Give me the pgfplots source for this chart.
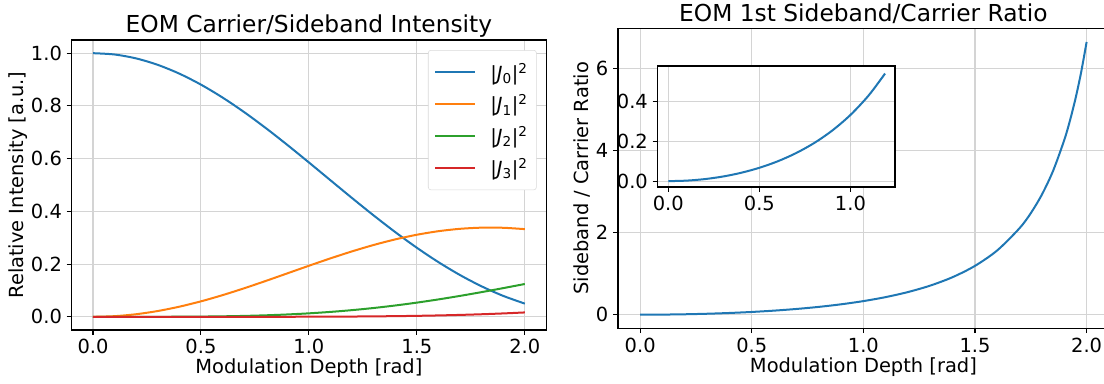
\documentclass[border=0pt]{standalone}
\usepackage{fontspec}
\setmainfont{DejaVu Sans}
\usepackage{pgfplots}
\pgfplotsset{compat=1.18}
\definecolor{C0}{HTML}{1F77B4}
\definecolor{C1}{HTML}{FF7F0E}
\definecolor{C2}{HTML}{2CA02C}
\definecolor{C3}{HTML}{D62728}
\pgfplotsset{
  mpl/.style={
    scale only axis,
    axis line style={line width=1.25pt},
    grid=major,
    major grid style={line width=0.8pt, color=black!17},
    tick align=outside,
    tick pos=left,
    major tick length=3.6pt,
    every tick/.style={black, line width=0.8pt},
    tick label style={font=\fontsize{14.58}{17}\selectfont},
    /pgf/number format/assume math mode=true,
    label style={font=\fontsize{14.58}{17}\selectfont},
    every axis title/.style={font=\fontsize{17.5}{21}\selectfont, at={(0.5,1)}, anchor=base, yshift=5.5pt},
    every axis plot/.append style={line width=1.5pt, no markers},
  },
  onedec/.style={/pgf/number format/.cd, fixed, fixed zerofill, precision=1},
}
\begin{document}
\begin{tikzpicture}
% ---------------- left panel ----------------
\begin{axis}[mpl,
  at={(53.55pt,39.75pt)}, anchor=south west,
  width=356.25pt, height=217.5pt,
  xmin=-0.1, xmax=2.1, ymin=-0.05, ymax=1.05,
  xtick={0,0.5,1,1.5,2}, ytick={0,0.2,0.4,0.6,0.8,1.0},
  xticklabel style={onedec}, yticklabel style={onedec},
  title={EOM Carrier/Sideband Intensity},
  xlabel={Modulation Depth [rad]},
  ylabel={Relative Intensity [a.u.]},
  xlabel style={at={(axis description cs:0.5,-0.132)}, anchor=center},
  ylabel style={at={(axis description cs:-0.1126,0.5)}, anchor=center, rotate=0},
  legend cell align=left,
  legend image code/.code={\draw[#1] (0pt,0pt) -- (30pt,0pt); \path (38.5pt,0pt);},
  legend style={at={(1,1)}, anchor=north east, xshift=-7.3pt, yshift=-7.5pt,
    draw=black!15, rounded corners=2pt, fill=white,
    font=\fontsize{14.58}{17}\selectfont, row sep=5.5pt,
    inner xsep=4.5pt, inner ysep=7.5pt},
]
\addplot[C0, smooth] coordinates {(0,1)(0.1,0.99501)(0.2,0.98015)(0.3,0.95575)(0.4,0.92236)(0.5,0.88073)(0.6,0.83175)(0.7,0.77652)(0.8,0.71620)(0.9,0.65210)(1.0,0.58553)(1.1,0.51786)(1.2,0.45042)(1.3,0.38451)(1.4,0.32133)(1.5,0.26197)(1.6,0.20739)(1.7,0.15839)(1.8,0.11559)(1.9,0.07942)(2.0,0.05013)};
\addlegendentry{|\textit{J}\textsubscript{0}|\textsuperscript{2}}
\addplot[C1, smooth] coordinates {(0,0)(0.1,0.00249)(0.2,0.00990)(0.3,0.02200)(0.4,0.03843)(0.5,0.05869)(0.6,0.08220)(0.7,0.10824)(0.8,0.13604)(0.9,0.16480)(1.0,0.19365)(1.1,0.22175)(1.2,0.24829)(1.3,0.27251)(1.4,0.29371)(1.5,0.31129)(1.6,0.32478)(1.7,0.33381)(1.8,0.33816)(1.9,0.33774)(2.0,0.33261)};
\addlegendentry{|\textit{J}\textsubscript{1}|\textsuperscript{2}}
\addplot[C2, smooth] coordinates {(0,0)(0.1,0.0000016)(0.2,0.000025)(0.3,0.000125)(0.4,0.000389)(0.5,0.000937)(0.6,0.001907)(0.7,0.003456)(0.8,0.005748)(0.9,0.008947)(1.0,0.013203)(1.1,0.018650)(1.2,0.025392)(1.3,0.033499)(1.4,0.042997)(1.5,0.053865)(1.6,0.066033)(1.7,0.079377)(1.8,0.093724)(1.9,0.108851)(2.0,0.124492)};
\addlegendentry{|\textit{J}\textsubscript{2}|\textsuperscript{2}}
\addplot[C3, smooth] coordinates {(0,0)(0.1,0)(0.2,0.00000003)(0.3,0.0000003)(0.4,0.0000017)(0.5,0.0000066)(0.6,0.0000194)(0.7,0.000048)(0.8,0.000105)(0.9,0.000208)(1.0,0.000383)(1.1,0.000660)(1.2,0.001081)(1.3,0.001692)(1.4,0.002550)(1.5,0.003717)(1.6,0.005260)(1.7,0.007251)(1.8,0.009762)(1.9,0.012865)(2.0,0.016626)};
\addlegendentry{|\textit{J}\textsubscript{3}|\textsuperscript{2}}
\end{axis}
% ---------------- right panel ----------------
\begin{axis}[mpl,
  at={(463.4pt,41.0pt)}, anchor=south west,
  width=368.3pt, height=225pt,
  xmin=-0.1, xmax=2.1, ymin=-0.332, ymax=6.967,
  xtick={0,0.5,1,1.5,2}, ytick={0,2,4,6},
  xticklabel style={onedec},
  title={EOM 1st Sideband/Carrier Ratio},
  xlabel={Modulation Depth [rad]},
  ylabel={Sideband / Carrier Ratio},
  xlabel style={at={(axis description cs:0.5,-0.128)}, anchor=center},
  ylabel style={at={(axis description cs:-0.0721,0.5)}, anchor=center, rotate=0},
]
\addplot[C0, smooth] coordinates {(0,0)(0.1,0.002506)(0.2,0.010101)(0.3,0.023017)(0.4,0.041662)(0.5,0.066643)(0.6,0.098824)(0.7,0.139389)(0.8,0.189951)(0.9,0.252717)(1.0,0.330719)(1.1,0.428206)(1.2,0.551246)(1.3,0.708721)(1.4,0.914053)(1.5,1.188294)(1.6,1.566034)(1.7,2.107504)(1.75,2.4713)(1.8,2.925544)(1.85,3.50254)(1.9,4.252534)(1.925,4.7154)(1.95,5.2537)(1.975,5.886)(2.0,6.635467)};
\end{axis}
% ---------------- inset ----------------
\begin{axis}[mpl,
  at={(493pt,147.2pt)}, anchor=south west,
  width=178.3pt, height=90.5pt,
  axis background/.style={fill=white},
  xmin=-0.06, xmax=1.245, ymin=-0.028, ymax=0.575,
  xtick={0,0.5,1}, ytick={0,0.2,0.4},
  xticklabel style={onedec}, yticklabel style={onedec},
]
\addplot[C0, smooth] coordinates {(0,0)(0.1,0.002506)(0.2,0.010101)(0.3,0.023017)(0.4,0.041662)(0.5,0.066643)(0.6,0.098824)(0.7,0.139389)(0.8,0.189951)(0.9,0.252717)(1.0,0.330719)(1.1,0.428206)(1.19,0.5376)};
\end{axis}
\pgfresetboundingbox
\path[use as bounding box] (0,0) rectangle (828pt,287.25pt);
\end{tikzpicture}
\end{document}
